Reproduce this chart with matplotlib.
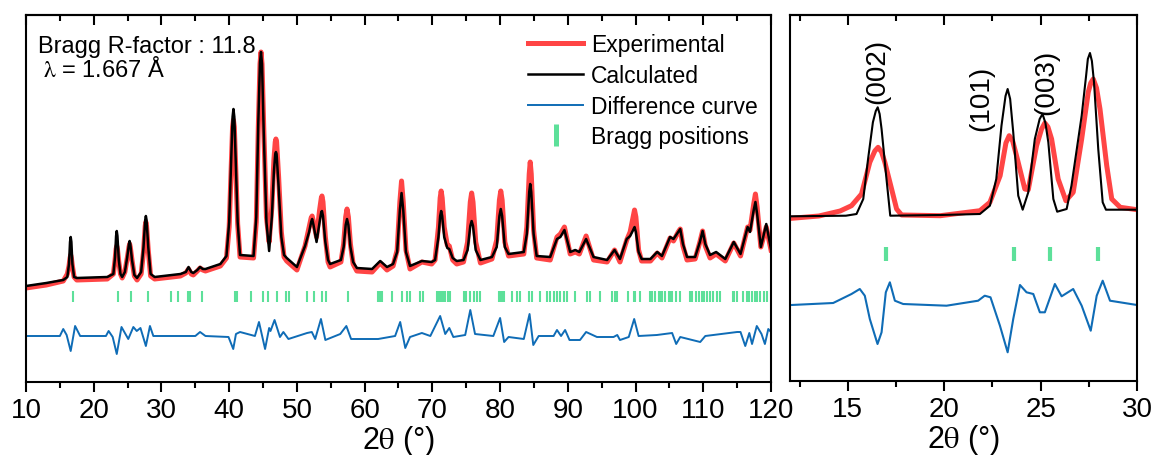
import matplotlib.pyplot as plt
from matplotlib.lines import Line2D
from matplotlib.ticker import MultipleLocator

plt.rcParams['font.family'] = ['Liberation Sans', 'DejaVu Sans']
plt.rcParams['mathtext.fontset'] = 'stix'

RED = '#FF4545'
BLUE = '#0F6CB6'
GREEN = '#5DE09A'

# ---- full pattern (left panel), intensities in arbitrary units ----
tt_full = [10.0, 13.0, 15.5, 16.1, 16.35, 16.5, 16.6, 16.7, 16.85, 17.1, 17.5, 22.0, 22.9, 23.15,
           23.3, 23.4, 23.5, 23.7, 23.95, 24.2, 24.6, 24.95, 25.2, 25.3, 25.4, 25.65, 26.0, 26.4,
           27.0, 27.35, 27.6, 27.7, 27.8, 28.05, 28.4, 29.0, 32.8, 33.6, 34.0, 34.4, 34.7, 35.3,
           35.7, 36.1, 36.5, 38.7, 39.6, 40.0, 40.3, 40.5, 40.63, 40.76, 40.95, 41.25, 41.6, 43.6,
           44.0, 44.3, 44.55, 44.7, 44.85, 45.1, 45.5, 45.9, 46.3, 46.6, 46.8, 46.9, 47.0, 47.3,
           47.7, 48.1, 48.5, 50.0, 51.2, 51.8, 52.1, 52.25, 52.45, 52.9, 53.35, 53.6, 53.7, 53.85,
           54.2, 54.6, 54.9, 56.5, 56.9, 57.2, 57.4, 57.6, 57.9, 58.3, 58.85, 61.1, 62.3, 63.3,
           64.2, 64.8, 65.2, 65.45, 65.7, 66.1, 66.7, 68.45, 69.9, 70.4, 70.9, 71.15, 71.3, 71.45,
           71.75, 72.2, 72.5, 73.0, 73.6, 74.6, 75.2, 75.6, 75.8, 76.0, 76.4, 77.1, 78.8, 79.5,
           79.9, 80.1, 80.3, 80.7, 81.25, 83.5, 83.95, 84.3, 84.45, 84.6, 84.95, 85.4, 87.4, 88.4,
           88.9, 89.5, 90.35, 91.1, 91.7, 92.7, 93.8, 95.8, 96.9, 97.7, 98.7, 99.2, 99.65, 99.85,
           100.05, 100.45, 100.9, 102.2, 103.2, 103.9, 105.1, 105.6, 106.3, 106.6, 107.0, 107.6,
           108.8, 109.5, 109.9, 110.3, 111.0, 111.9, 113.25, 114.5, 115.5, 116.55, 116.9, 117.45,
           117.7, 117.95, 118.5, 119.3, 120.0]
calc_full = [96, 99, 102, 105, 118, 140, 145, 140, 118, 105, 104, 105, 108, 125,
             146, 151, 146, 122, 108, 105, 110, 125, 138, 141, 138, 122, 107, 104,
             110, 135, 162, 166, 162, 135, 108, 105, 108, 110, 115, 110, 109, 112,
             115, 113, 113, 118, 126, 160, 225, 265, 273, 265, 225, 160, 127, 126,
             165, 260, 320, 330, 318, 250, 160, 131, 165, 210, 228, 230, 228, 195,
             145, 127, 124, 115, 136, 150, 160, 163, 157, 140, 160, 170, 171, 166,
             140, 122, 118, 122, 135, 157, 163, 157, 135, 120, 114, 113, 121, 115,
             118, 130, 172, 189, 172, 130, 116, 121, 120, 122, 145, 166, 171, 166,
             145, 134, 133, 124, 121, 122, 132, 156, 161, 156, 132, 122, 125, 135,
             166, 173, 166, 135, 128, 130, 148, 190, 198, 190, 148, 126, 125, 143,
             145, 152, 130, 132, 130, 143, 125, 122, 132, 123, 143, 146, 152, 155,
             150, 130, 123, 123, 130, 126, 145, 143, 150, 153, 138, 125,
             125, 140, 151, 138, 127, 130, 123, 140, 128, 155, 150, 172,
             180, 168, 135, 158, 133]
obs_full = [94, 97, 101, 108, 116, 124, 127, 124, 116, 105, 102, 103, 108, 122,
            133, 136, 133, 120, 108, 104, 110, 124, 135, 138, 135, 122, 106, 102,
            108, 130, 156, 160, 156, 132, 106, 103, 106, 109, 113, 108, 107, 111,
            114, 112, 111, 116, 124, 155, 215, 255, 262, 255, 218, 158, 125, 124,
            160, 255, 318, 330, 318, 255, 165, 140, 175, 222, 240, 243, 240, 205,
            150, 125, 121, 112, 136, 155, 164, 166, 160, 145, 172, 184, 186, 180,
            145, 120, 115, 120, 138, 165, 173, 165, 138, 118, 111, 110, 119, 112,
            116, 132, 180, 201, 180, 132, 113, 120, 118, 122, 155, 184, 191, 184,
            155, 137, 136, 122, 118, 120, 140, 180, 189, 180, 140, 119, 123, 142,
            182, 191, 182, 140, 126, 128, 155, 208, 220, 208, 152, 124, 122, 145,
            148, 155, 128, 130, 128, 146, 122, 120, 132, 120, 142, 150, 165, 172,
            165, 132, 121, 121, 129, 124, 144, 141, 150, 153, 136, 122,
            123, 140, 151, 136, 124, 128, 121, 139, 126, 155, 152, 178,
            188, 175, 135, 155, 132]

tt_diff = [10, 15.0, 15.5, 16.0, 16.6, 17.25, 18.0, 21.8, 22.2, 22.8, 23.4, 24.1, 25.1, 25.85,
           26.35, 26.9, 27.7, 28.3, 28.8, 35.0, 35.7, 36.5, 39.9, 40.6, 41.0, 41.6, 43.8, 44.4,
           45.3, 45.9, 46.1, 46.7, 47.5, 48.0, 48.75, 51.5, 52.2, 52.7, 53.55, 54.2, 56.4, 57.3,
           58.0, 62.0, 64.5, 65.25, 66.0, 66.7, 68.45, 69.7, 71.15, 71.9, 72.5, 73.1, 74.85, 75.6,
           76.3, 79.0, 80.0, 80.6, 81.25, 83.5, 84.35, 84.9, 85.7, 87.9, 88.4, 89.0, 89.6, 90.25,
           91.8, 92.7, 94.3, 96.75, 97.3, 97.7, 99.0, 99.8, 100.45, 103.15, 105.4, 106.0, 106.6,
           109.55, 110.3, 115.0, 115.5, 116.2, 116.8, 117.2, 117.9, 118.6, 119.1, 119.6, 120.0]
diff_full = [46, 46, 53, 47, 31, 56, 46, 46, 51, 45, 28, 55, 43, 55,
             51, 54, 36, 56, 46, 46, 50, 46, 45, 33, 48, 50, 46, 60,
             33, 54, 51, 62, 45, 50, 43, 49, 50, 43, 63, 42, 48, 56,
             43, 43, 46, 60, 34, 45, 49, 46, 66, 48, 54, 45, 47, 72,
             48, 46, 64, 40, 45, 43, 68, 37, 46, 46, 52, 46, 52, 42,
             42, 50, 45, 45, 47, 42, 45, 63, 46, 47, 49, 38, 45,
             40, 46, 50, 50, 36, 49, 38, 56, 48, 38, 53, 50]

# Bragg reflection positions (2theta, deg)
bragg = [17.0, 23.6, 25.5, 28.0, 31.4, 32.5, 33.9, 34.2, 36.0, 40.9, 41.1, 43.2, 45.05, 45.8,
         47.1, 48.35, 48.9, 51.5, 52.45, 53.7, 54.3, 57.6, 62.0, 62.3, 62.5, 64.0, 65.5, 66.2,
         66.7, 68.2, 68.6, 70.7, 71.0, 71.3, 71.6, 71.9, 72.3, 72.6, 74.6, 75.0, 75.5, 76.1,
         76.6, 77.0, 79.8, 80.1, 80.3, 80.6, 81.7, 82.5, 83.0, 84.2, 84.7, 85.9, 86.9, 87.4,
         87.9, 88.4, 88.9, 89.4, 89.9, 91.1, 92.8, 93.3, 94.8, 96.5, 96.9, 97.2, 98.95, 99.7,
         99.95, 100.7, 102.2, 102.5, 102.9, 103.4, 103.7, 103.9, 104.4, 104.9, 105.1, 105.4,
         105.9, 106.6, 108.1, 108.4, 108.9, 109.3, 109.8, 110.1, 110.5, 111.0, 111.5, 112.0,
         112.5, 114.4, 114.6, 115.0, 115.9, 116.4, 116.7, 117.2, 117.7, 118.0, 118.4, 118.9, 119.4]

# ---- zoomed low-angle region (right panel) ----
tt_zc = [12.08, 14.9, 15.45, 15.8, 16.05, 16.3, 16.45, 16.55, 16.65, 16.75, 16.97, 17.2, 19.8,
         21.85, 22.37, 22.7, 22.97, 23.18, 23.29, 23.42, 23.58, 23.84, 24.07, 24.36, 24.7, 24.95,
         25.1, 25.25, 25.4, 25.66, 25.86, 26.35, 26.6, 27.13, 27.36, 27.45, 27.56, 27.66, 27.77,
         27.99, 28.22, 28.39, 30.0]
calc_z = [164.7, 165.3, 167, 182, 222, 258.7, 270, 273.7, 267, 252, 208.7, 165.3, 166,
          167, 175.3, 202, 255.3, 285, 292, 282, 248.7, 185.3, 171.3, 188.7, 242, 262,
          267, 258, 238.7, 182, 169.3, 172, 195.3, 265.3, 305.3, 322, 328, 320, 298.7,
          232, 178.7, 171.3, 171.3]
tt_zo = [12.08, 13.5, 14.6, 15.19, 15.71, 16.14, 16.4, 16.57, 16.75, 16.92, 17.27, 17.53, 17.79,
         19.8, 21.85, 22.37, 22.9, 23.2, 23.37, 23.55, 23.75, 24.18, 24.36, 24.79, 25.05, 25.22,
         25.38, 25.57, 25.91, 26.31, 26.69, 27.13, 27.47, 27.6, 27.73, 27.9, 28.08, 28.43, 28.69,
         29.13, 30.0]
obs_z = [162.7, 165, 170, 175.3, 187, 218.7, 230, 233.7, 229, 218.7, 192, 172, 166,
         165.3, 170.3, 178.7, 205.3, 238, 245.3, 240, 225.3, 192, 191.3, 235.3, 252, 258,
         254, 242, 202, 180.3, 188.7, 242, 288.7, 298, 302, 293, 272, 215.3, 182,
         173.7, 171.3]
tt_zd = [12.08, 14.24, 15.19, 15.62, 15.88, 16.14, 16.54, 16.75, 16.97, 17.18, 17.44, 17.87,
         20.12, 21.76, 22.1, 22.4, 22.89, 23.29, 23.58, 23.93, 24.27, 24.62, 24.96, 25.22,
         25.74, 26.09, 26.69, 27.13, 27.6, 27.91, 28.22, 28.6, 30.0]
diff_z = [76, 78, 87, 92, 85.3, 62, 37, 48.7, 88.7, 98.7, 80.3, 77,
          75.3, 80.3, 85.3, 83.7, 55.3, 28.7, 62, 96, 88.7, 87, 68.7, 68.7,
          97, 84.7, 92, 75.3, 50.3, 85.3, 100.3, 80.3, 76]

hkl_labels = ['(002)', '(101)', '(003)']
hkl_x = [16.55, 21.93, 25.3]
hkl_y = [311, 284, 300]


def style(ax, major, minor):
    ax.set_yticks([])
    for s in ax.spines.values():
        s.set_linewidth(1.5)
    ax.xaxis.set_major_locator(MultipleLocator(major))
    ax.xaxis.set_minor_locator(MultipleLocator(minor))
    ax.tick_params(axis='x', which='major', direction='out', length=7, width=1.5,
                   labelsize=20, pad=4)
    ax.tick_params(axis='x', which='minor', direction='out', length=4, width=1.5)
    top = ax.secondary_xaxis('top')
    top.xaxis.set_major_locator(MultipleLocator(major))
    top.xaxis.set_minor_locator(MultipleLocator(minor))
    top.tick_params(which='major', direction='in', length=7, width=1.5, labeltop=False)
    top.tick_params(which='minor', direction='in', length=4, width=1.5)
    top.spines['top'].set_linewidth(1.5)
    ax.set_xlabel(r'2$\mathrm{\theta}$ (°)', fontsize=22, labelpad=0)


fig = plt.figure(figsize=(11.55, 4.56), dpi=100)
ax1 = fig.add_axes([26 / 1155, 1 - 383 / 456, 745 / 1155, 367 / 456])
ax2 = fig.add_axes([790 / 1155, 1 - 382 / 456, 347 / 1155, 366 / 456])

# left panel
ax1.plot(tt_full, obs_full, color=RED, lw=3.6, label='Experimental')
ax1.plot(tt_full, calc_full, color='black', lw=1.8, label='Calculated')
ax1.plot(tt_diff, diff_full, color=BLUE, lw=1.4, label='Difference curve')
ax1.vlines(bragg, 80, 91, color=GREEN, lw=1.5)
ax1.set_xlim(10, 120)
ax1.set_ylim(0, 367)
style(ax1, 10, 5)

handles, labels = ax1.get_legend_handles_labels()
handles.append(Line2D([], [], color=GREEN, marker='|', ls='none', markersize=16.5, mew=3.6))
labels.append('Bragg positions')
ax1.legend(handles, labels, loc='upper left', bbox_to_anchor=(528 / 1155, 1 - 34 / 456),
           bbox_transform=fig.transFigure, frameon=False, fontsize=16.5, borderpad=0,
           borderaxespad=0, handlelength=2.4, handletextpad=0.35, labelspacing=0.34)

fig.text(38 / 1155, 1 - 52.7 / 456, 'Bragg R-factor : 11.8', fontsize=17, va='baseline')
fig.text(43 / 1155, 1 - 76.7 / 456, r'$\mathrm{\lambda}$ = 1.667 Å', fontsize=17, va='baseline')

# right panel
ax2.plot(tt_zo, obs_z, color=RED, lw=3.6)
ax2.plot(tt_zc, calc_z, color='black', lw=1.5)
ax2.plot(tt_zd, diff_z, color=BLUE, lw=1.5)
ax2.vlines(bragg, 120, 134, color=GREEN, lw=3)
for lab, x, y in zip(hkl_labels, hkl_x, hkl_y):
    ax2.text(x, y, lab, rotation=90, fontsize=20, ha='center', va='center')
ax2.set_xlim(12, 30)
ax2.set_ylim(0, 366)
style(ax2, 5, 2.5)

fig.savefig('out.png', dpi=100)
